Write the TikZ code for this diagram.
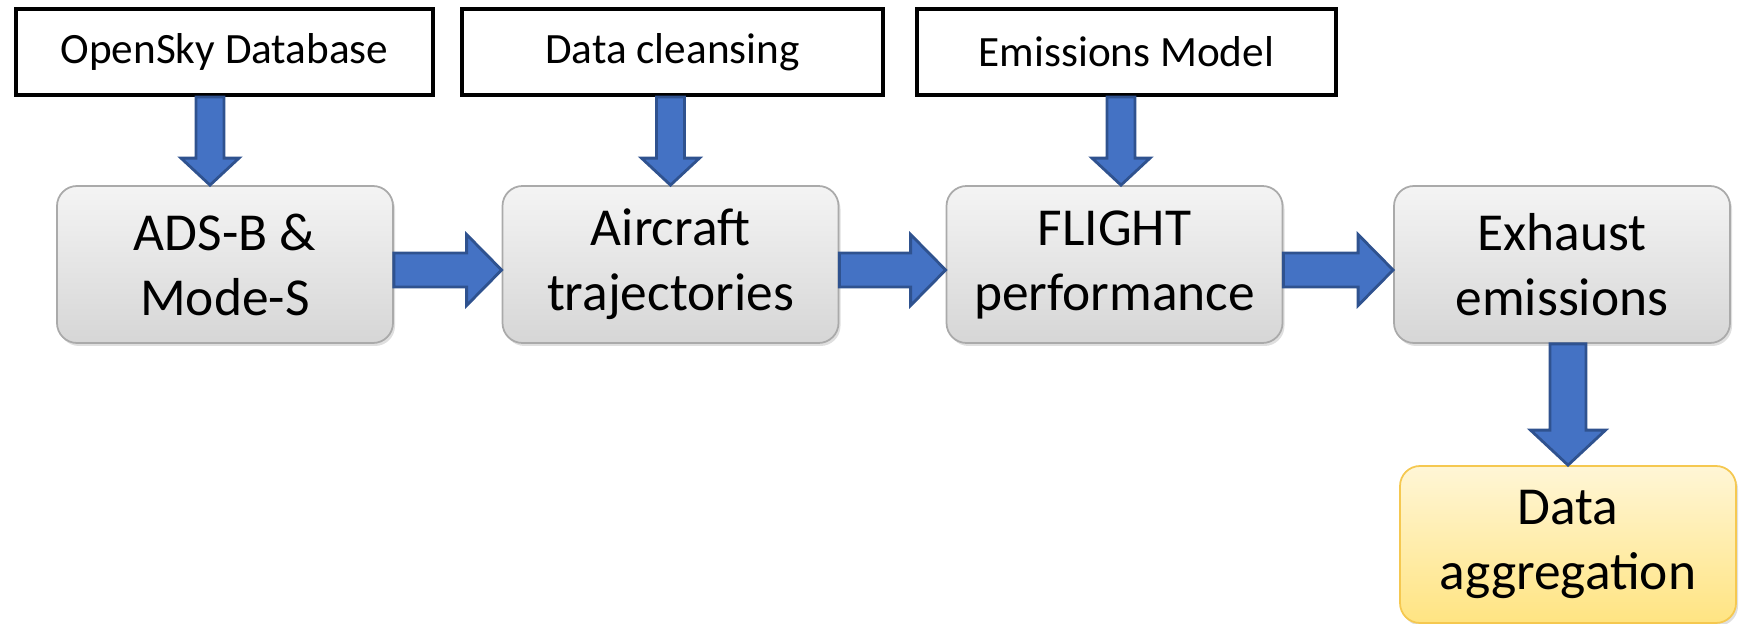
\documentclass[tikz,border=0pt]{standalone}
\usepackage{fontspec}
\setmainfont{Carlito}
\usepackage{tikz}
\usetikzlibrary{positioning,calc,shadows}
\definecolor{arrowblue}{RGB}{68,114,196}
\definecolor{arrowedge}{RGB}{47,82,143}
\definecolor{boxtop}{RGB}{244,244,244}
\definecolor{boxbottom}{RGB}{214,214,214}
\definecolor{boxline}{RGB}{170,170,170}
\definecolor{aggtop}{RGB}{255,246,214}
\definecolor{aggbottom}{RGB}{255,228,130}
\definecolor{aggline}{RGB}{245,200,80}

\begin{document}
\begin{tikzpicture}[
  source/.style={rectangle,draw=black,line width=0.04cm,fill=white,
    minimum height=0.86cm,font=\fontsize{12.3}{14}\selectfont},
  stage/.style={rectangle,rounded corners=0.2cm,draw=boxline,line width=0.5pt,
    top color=boxtop,bottom color=boxbottom,minimum width=3.36cm,
    minimum height=1.57cm,align=center,font=\fontsize{15.2}{18.5}\selectfont,
    drop shadow={shadow xshift=0.02cm,shadow yshift=-0.03cm,opacity=0.25}},
  result/.style={stage,top color=aggtop,bottom color=aggbottom,draw=aggline},
  blockarrow/.style={draw=arrowedge,fill=arrowblue,line width=0.8pt},
  harrow/.style={blockarrow,to path={
    ($(\tikztostart)+(0,0.17)$) -- ($(\tikztotarget)+(-0.35,0.17)$)
    -- ($(\tikztotarget)+(-0.35,0.355)$) -- (\tikztotarget)
    -- ($(\tikztotarget)+(-0.35,-0.355)$) -- ($(\tikztotarget)+(-0.35,-0.17)$)
    -- ($(\tikztostart)+(0,-0.17)$) -- cycle}},
  varrow/.style n args={3}{blockarrow,to path={
    ($(\tikztostart)+(-#1,0)$) -- ($(\tikztotarget)+(-#1,#3)$)
    -- ($(\tikztotarget)+(-#2,#3)$) -- (\tikztotarget)
    -- ($(\tikztotarget)+(#2,#3)$) -- ($(\tikztotarget)+(#1,#3)$)
    -- ($(\tikztostart)+(#1,0)$) -- cycle}}
]
\useasboundingbox (0,0) rectangle (17.44,-6.24);

% inputs
\node[source,minimum width=4.17cm] (osky) at (2.245,-0.52) {OpenSky Database};
\node[source,minimum width=4.21cm] (clean) at (6.725,-0.52) {Data cleansing};
\node[source,minimum width=4.19cm] (emis) at (11.265,-0.52) {Emissions Model};

% processing chain
\node[stage] (ads) at (2.25,-2.645) {ADS-B \&\\ Mode-S};
\node[stage] (air) at (6.705,-2.645) {Aircraft\\ trajectories};
\node[stage] (flight) at (11.145,-2.645) {FLIGHT\\ performance};
\node[stage] (exh) at (15.62,-2.645) {Exhaust\\ emissions};
\node[result] (agg) at (15.68,-5.445) {Data\\ aggregation};

\draw[varrow={0.14}{0.29}{0.27}] ([xshift=-0.145cm]osky.south) to ([xshift=-0.15cm]ads.north);
\draw[varrow={0.14}{0.29}{0.27}] (clean.south -| air.north) to (air.north);
\draw[varrow={0.14}{0.29}{0.27}] ([xshift=-0.055cm]emis.south) to ([xshift=-0.055cm]emis.south |- flight.north);

\draw[harrow] ([yshift=-0.055cm]ads.east) to ([yshift=-0.055cm]air.west);
\draw[harrow] ([yshift=-0.055cm]air.east) to ([yshift=-0.055cm]flight.west);
\draw[harrow] ([yshift=-0.055cm]flight.east) to ([yshift=-0.055cm]exh.west);

\draw[varrow={0.18}{0.375}{0.35}] (exh.south -| agg.north) to (agg.north);
\end{tikzpicture}
\end{document}
